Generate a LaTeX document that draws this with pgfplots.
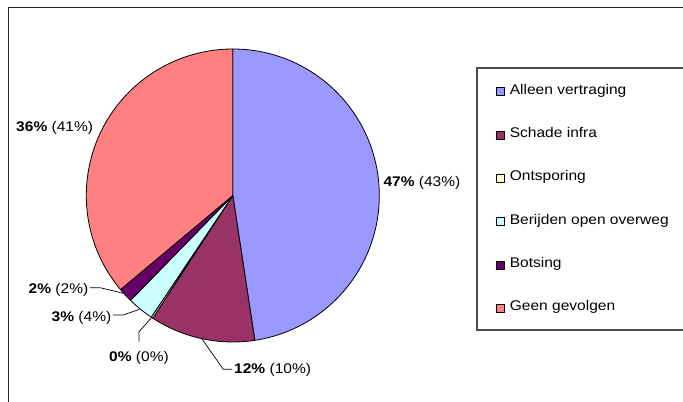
\documentclass[border=0pt]{standalone}
\usepackage{pgfplots}
\pgfplotsset{compat=1.18}
\usepackage{fontspec}
\setmainfont{Liberation Sans}[FakeStretch=1.11]

\definecolor{alleen}{HTML}{9999FF}
\definecolor{schade}{HTML}{993366}
\definecolor{ontspor}{HTML}{FFFFCC}
\definecolor{overweg}{HTML}{CCFFFF}
\definecolor{botsing}{HTML}{660066}
\definecolor{geen}{HTML}{FF8080}

% pie centre and radius in axis units (1 unit = 1bp)
\newcommand{\cx}{232.8}
\newcommand{\cy}{206.5}
\newcommand{\rad}{146.5}
% slice: cumulative start (%), share (%), colour
\newcommand{\slice}[3]{%
  \fill[#3, draw=black, line width=0.8bp] (axis cs:\cx,\cy)
    -- ++({90-3.6*(#1)}:\rad bp)
    arc[start angle={90-3.6*(#1)}, end angle={90-3.6*(#1+#2)}, radius=\rad bp] -- cycle;}

\begin{document}
\fontsize{14bp}{16bp}\selectfont
\begin{tikzpicture}
\begin{axis}[
  hide axis, scale only axis, clip=false,
  at={(0,0)}, anchor=south west,
  width=683bp, height=402bp,
  xmin=0, xmax=683, ymin=0, ymax=402,
  legend style={at={(axis cs:496,318)}, anchor=north west, draw=none, fill=none,
    inner sep=0pt, row sep=30.3bp, font=\fontsize{14bp}{16bp}\selectfont,
    nodes={inner sep=0pt, text height=10bp, text depth=3bp},
    column sep=5bp},
  legend cell align=left,
  legend image code/.code={\draw[#1, draw=black, line width=0.6bp] (0bp,-5bp) rectangle (8bp,3bp);},
]
% shares in % (clockwise from 12 o'clock)
\slice{0}{47.6}{alleen}
\slice{47.6}{11.6}{schade}
\slice{59.2}{0.2}{ontspor}
\slice{59.4}{2.9}{overweg}
\slice{62.3}{1.6}{botsing}
\slice{63.9}{36.1}{geen}

\addlegendimage{fill=alleen}\addlegendentry{Alleen vertraging}
\addlegendimage{fill=schade}\addlegendentry{Schade infra}
\addlegendimage{fill=ontspor}\addlegendentry{Ontsporing}
\addlegendimage{fill=overweg}\addlegendentry{Berijden open overweg}
\addlegendimage{fill=botsing}\addlegendentry{Botsing}
\addlegendimage{fill=geen}\addlegendentry{Geen gevolgen}

% data labels and leader lines
\draw[black, line width=0.7bp] (axis cs:201.7,63.4) -- (axis cs:223.3,32.7) -- (axis cs:232,32.7);
\draw[black, line width=0.7bp] (axis cs:151.7,84.5) -- (axis cs:139,70.3) -- (axis cs:139,60.3);
\draw[black, line width=0.7bp] (axis cs:139.3,92.7) -- (axis cs:123.3,87) -- (axis cs:113,87);
\draw[black, line width=0.7bp] (axis cs:123.3,108.7) -- (axis cs:100,114.3) -- (axis cs:90,114.3);
\node[anchor=base west, inner sep=0pt] at (axis cs:383.3,215.3) {\textbf{47\%} (43\%)};
\node[anchor=base west, inner sep=0pt] at (axis cs:234,28.3) {\textbf{12\%} (10\%)};
\node[anchor=base, inner sep=0pt] at (axis cs:139,40.3) {\textbf{0\%} (0\%)};
\node[anchor=base east, inner sep=0pt] at (axis cs:111.5,80.3) {\textbf{3\%} (4\%)};
\node[anchor=base east, inner sep=0pt] at (axis cs:88.5,108.7) {\textbf{2\%} (2\%)};
\node[anchor=base east, inner sep=0pt] at (axis cs:93.3,270.3) {\textbf{36\%} (41\%)};

% legend frame (cut off at the right) and chart frame
\draw[black!70, line width=1.2bp] (axis cs:683,334) -- (axis cs:477,334) -- (axis cs:477,72) -- (axis cs:683,72);
\draw[black!85, line width=1.5bp] (axis cs:683,394.5) -- (axis cs:8.3,394.5) -- (axis cs:8.3,0);
\end{axis}
\pgfresetboundingbox
\path[use as bounding box] (0,0) rectangle (683bp,402bp);
\end{tikzpicture}
\end{document}
